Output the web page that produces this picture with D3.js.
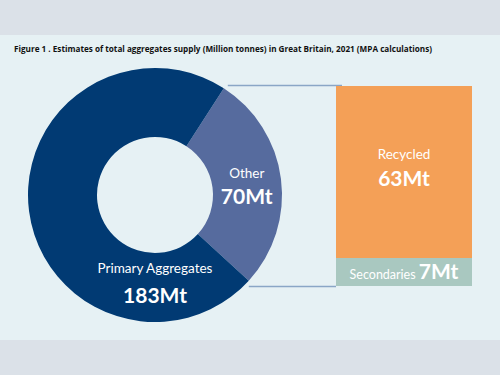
<!DOCTYPE html>
<html>
<head>
<meta charset="utf-8">
<script src="https://cdn.jsdelivr.net/npm/d3@7"></script>
<style>
  html, body { margin: 0; padding: 0; background: #dbe1e8; }
  svg { display: block; font-family: Lato, "Open Sans", sans-serif; }
</style>
</head>
<body>
<div id="chart"></div>
<script>
// data
var donutNames = ["Other", "Primary Aggregates"];
var donutValues = [70, 183];
var barNames = ["Secondaries", "Recycled"];
var barValues = [7, 63];
var title = "Figure 1 . Estimates of total aggregates supply (Million tonnes) in Great Britain, 2021 (MPA calculations)";

var W = 500, H = 375;
var cx = 155, cy = 195, rOuter = 127, rInner = 58;
var donutColors = d3.scaleOrdinal().domain(donutNames).range(["#566b9e", "#013a73"]);
var barColors = d3.scaleOrdinal().domain(barNames).range(["#a9c8c0", "#f4a057"]);

var svg = d3.select("#chart").append("svg")
    .attr("width", W).attr("height", H);

// panel
svg.append("rect").attr("x", 0).attr("y", 0).attr("width", W).attr("height", H).attr("fill", "#dbe1e8");
svg.append("rect").attr("x", 0).attr("y", 35).attr("width", W).attr("height", 305).attr("fill", "#e6f1f4");

var tt = svg.append("text")
    .attr("x", 14).attr("y", 52)
    .attr("font-family", "'Liberation Sans Narrow', 'Open Sans', sans-serif")
    .attr("font-weight", "bold")
    .attr("font-size", 10)
    .attr("fill", "#111")
    .text(title);
// shrink to the width the reference title takes
var tw = tt.node().getComputedTextLength();
if (tw > 419) tt.attr("font-size", 10 * 419 / tw);

// donut
var otherSpan = donutValues[0] / d3.sum(donutValues) * 2 * Math.PI;
var midOther = 82.6 * Math.PI / 180;
var pie = d3.pie().sort(null)
    .startAngle(midOther - otherSpan / 2)
    .endAngle(midOther - otherSpan / 2 + 2 * Math.PI);
var arcs = pie(donutValues);
var arc = d3.arc().innerRadius(rInner).outerRadius(rOuter);

var g = svg.append("g").attr("transform", "translate(" + cx + "," + cy + ")");
g.selectAll("path").data(arcs).enter().append("path")
    .attr("d", arc)
    .attr("fill", function (d, i) { return donutColors(donutNames[i]); });

// bars (stacked); the small segment gets a minimum band so its label fits
var bx = 336, bw = 136, minBand = 28;
var total = d3.sum(barValues);
var y = d3.scaleLinear().domain([0, barValues[0], total]).range([286, 286 - minBand, 86]);
var cum = 0;
var stack = barValues.map(function (v, i) {
    var s = { name: barNames[i], value: v, y0: cum, y1: cum + v };
    cum += v;
    return s;
});

// connector lines from the Other slice to the bar
var a0 = arcs[0].startAngle, a1 = arcs[0].endAngle;
var lineColor = "#8aa6c6";
svg.append("line")
    .attr("x1", cx + rOuter * Math.sin(a0) + 4).attr("y1", y(cum) - 0.5)
    .attr("x2", bx + 6).attr("y2", y(cum) - 0.5)
    .attr("stroke", lineColor).attr("stroke-width", 1.5);
svg.append("line")
    .attr("x1", cx + rOuter * Math.sin(a1)).attr("y1", y(0) + 0.5)
    .attr("x2", bx).attr("y2", y(0) + 0.5)
    .attr("stroke", lineColor).attr("stroke-width", 1.5);

svg.selectAll(".bar").data(stack).enter().append("rect")
    .attr("class", "bar")
    .attr("x", bx).attr("width", bw)
    .attr("y", function (d) { return y(d.y1); })
    .attr("height", function (d) { return y(d.y0) - y(d.y1); })
    .attr("fill", function (d) { return barColors(d.name); });

// labels
var c = arc.centroid(arcs[0]);
g.append("text").attr("x", c[0]).attr("y", c[1] - 5)
    .attr("text-anchor", "middle").attr("fill", "#fff").attr("font-size", 13.5)
    .text(donutNames[0]);
g.append("text").attr("x", c[0]).attr("y", c[1] + 21)
    .attr("text-anchor", "middle").attr("fill", "#fff").attr("font-size", 21).attr("font-weight", "bold")
    .text(donutValues[0] + "Mt");

var midR = (rInner + rOuter) / 2;
g.append("text").attr("x", 0).attr("y", midR - 15)
    .attr("text-anchor", "middle").attr("fill", "#fff").attr("font-size", 13.5)
    .text(donutNames[1]);
g.append("text").attr("x", 0).attr("y", midR + 15)
    .attr("text-anchor", "middle").attr("fill", "#fff").attr("font-size", 21).attr("font-weight", "bold")
    .text(donutValues[1] + "Mt");

var rec = stack[1];
var recMid = (y(rec.y0) + y(rec.y1)) / 2;
svg.append("text").attr("x", bx + bw / 2).attr("y", recMid - 13)
    .attr("text-anchor", "middle").attr("fill", "#fff").attr("font-size", 13.5)
    .text(rec.name);
svg.append("text").attr("x", bx + bw / 2).attr("y", recMid + 14)
    .attr("text-anchor", "middle").attr("fill", "#fff").attr("font-size", 21).attr("font-weight", "bold")
    .text(rec.value + "Mt");

var sec = stack[0];
var secMid = (y(sec.y0) + y(sec.y1)) / 2;
var st = svg.append("text").attr("x", bx + bw / 2).attr("y", secMid + 7)
    .attr("text-anchor", "middle").attr("fill", "#fff");
st.append("tspan").attr("font-size", 12.5).text(sec.name + " ");
st.append("tspan").attr("font-size", 21).attr("font-weight", "bold").text(sec.value + "Mt");
</script>
</body>
</html>
